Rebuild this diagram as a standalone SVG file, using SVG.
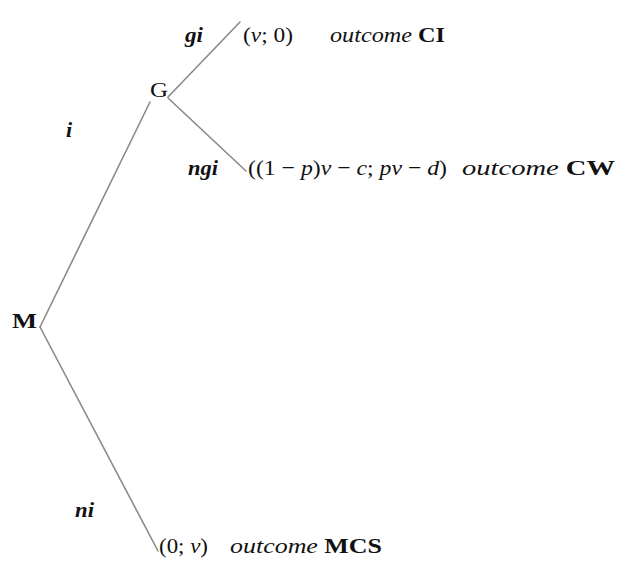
<svg xmlns="http://www.w3.org/2000/svg" width="627" height="565" viewBox="0 0 627 565">
<style>
.e{stroke:#8a8a8a;stroke-width:1.6;fill:none;stroke-linecap:round}
text{font-family:"Liberation Serif","DejaVu Serif",serif;font-size:22px;fill:#111}
.it{font-style:italic}
.b{font-weight:bold}
</style>
<rect width="627" height="565" fill="#fff"/>
<g id="edges">
<line class="e" x1="40" y1="327" x2="150" y2="102"/>
<line class="e" x1="40" y1="327" x2="158" y2="551"/>
<line class="e" x1="168" y1="97" x2="240" y2="22"/>
<line class="e" x1="168" y1="98" x2="246" y2="171"/>
<text class="it b" x="185" y="42" textLength="18" lengthAdjust="spacingAndGlyphs">gi</text>
<text class="it b" x="188" y="175" textLength="30" lengthAdjust="spacingAndGlyphs">ngi</text>
<text class="it b" x="66" y="137">i</text>
<text class="it b" x="75" y="517" textLength="19" lengthAdjust="spacingAndGlyphs">ni</text>
</g>
<g id="M"><text class="b" x="12" y="328" textLength="25" lengthAdjust="spacingAndGlyphs">M</text></g>
<g id="G"><text x="150" y="97" textLength="18" lengthAdjust="spacingAndGlyphs">G</text></g>
<g id="CI"><text x="243" y="42" textLength="50" lengthAdjust="spacingAndGlyphs">(<tspan class="it">v</tspan>; 0)</text><text x="330" y="42" textLength="115" lengthAdjust="spacingAndGlyphs"><tspan class="it">outcome</tspan> <tspan class="b">CI</tspan></text></g>
<g id="CW"><text x="248" y="175" textLength="199" lengthAdjust="spacingAndGlyphs">((1 − <tspan class="it">p</tspan>)<tspan class="it">v</tspan> − <tspan class="it">c</tspan>; <tspan class="it">pv</tspan> − <tspan class="it">d</tspan>)</text><text x="462" y="175" textLength="153" lengthAdjust="spacingAndGlyphs"><tspan class="it">outcome</tspan> <tspan class="b">CW</tspan></text></g>
<g id="MCS"><text x="159" y="553" textLength="49" lengthAdjust="spacingAndGlyphs">(0; <tspan class="it">v</tspan>)</text><text x="230" y="553" textLength="152" lengthAdjust="spacingAndGlyphs"><tspan class="it">outcome</tspan> <tspan class="b">MCS</tspan></text></g>
</svg>
